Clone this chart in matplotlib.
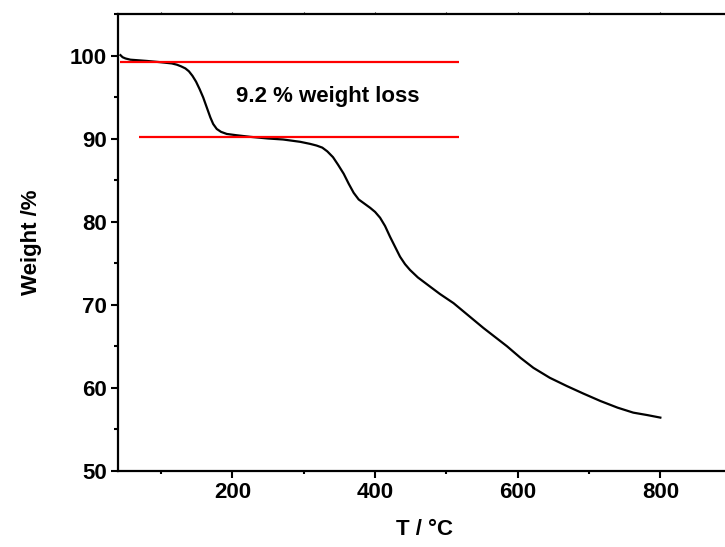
import matplotlib
matplotlib.use("Agg")
import matplotlib.pyplot as plt
from matplotlib.ticker import MultipleLocator

# TGA curve
temp = [43, 46, 50, 57, 80, 99, 115, 122, 128, 134, 139, 144, 149, 154, 159,
        164, 169, 173, 178, 184, 192, 205, 225, 250, 271, 295, 309, 318, 326,
        333, 341, 348, 356, 363, 370, 377, 385, 393, 400, 407, 414, 421, 428,
        435, 442, 449, 460, 477, 491, 510, 538, 552, 585, 604, 622, 645, 669,
        692, 716, 740, 762, 782, 800]
weight = [100.1, 99.85, 99.7, 99.55, 99.4, 99.25, 99.1, 98.95, 98.75, 98.5,
          98.15, 97.6, 96.9, 96.0, 95.0, 93.8, 92.6, 91.8, 91.2, 90.85, 90.6,
          90.45, 90.25, 90.05, 89.93, 89.65, 89.4, 89.2, 88.95, 88.5, 87.8,
          86.9, 85.8, 84.6, 83.5, 82.7, 82.2, 81.7, 81.2, 80.5, 79.5, 78.2,
          77.0, 75.8, 74.9, 74.2, 73.3, 72.2, 71.3, 70.2, 68.2, 67.2, 65.0,
          63.6, 62.4, 61.2, 60.2, 59.3, 58.4, 57.6, 57.0, 56.7, 56.4]

# red guide lines: level, start, end
upper_line = [99.3, 43, 518]
lower_line = [90.2, 69, 518]
loss_text = "9.2 % weight loss"

plt.rcParams['font.family'] = ['Liberation Sans', 'DejaVu Sans']
plt.rcParams['font.weight'] = 'bold'

fig = plt.figure(figsize=(7.25, 5.47), dpi=100)
ax = fig.add_axes([0.1632, 0.1395, 0.846, 0.834])

ax.plot(temp, weight, color="black", lw=1.6, solid_joinstyle="round")
ax.hlines(upper_line[0], upper_line[1], upper_line[2], color="red", lw=1.6)
ax.hlines(lower_line[0], lower_line[1], lower_line[2], color="red", lw=1.6)
ax.text(205, 95.1, loss_text, fontsize=16, fontweight="bold", va="center", ha="left")

ax.set_xlim(40, 900)
ax.set_ylim(50, 105)
ax.xaxis.set_major_locator(MultipleLocator(200))
ax.xaxis.set_minor_locator(MultipleLocator(100))
ax.yaxis.set_major_locator(MultipleLocator(10))
ax.yaxis.set_minor_locator(MultipleLocator(5))
ax.set_xticks([200, 400, 600, 800])

for s in ax.spines.values():
    s.set_linewidth(1.6)

ax.tick_params(axis="both", which="major", direction="out", length=5, width=1.5,
               labelsize=16, pad=3)
ax.tick_params(axis="x", which="minor", direction="out", length=2.5, width=1.5)
ax.tick_params(axis="y", which="minor", direction="out", length=3, width=1.5)
ax.tick_params(axis="x", which="both", top=True, labeltop=False)
# top ticks are only faint little marks
for t in ax.xaxis.get_major_ticks() + ax.xaxis.get_minor_ticks():
    t.tick2line.set_markersize(1.5)
    t.tick2line.set_markeredgewidth(0.8)
    t.tick2line.set_color("gray")

for lab in ax.get_xticklabels() + ax.get_yticklabels():
    lab.set_fontweight("bold")

ax.set_xlabel("T / °C", fontsize=16, fontweight="bold", labelpad=12)
ax.set_ylabel("Weight /%", fontsize=16, fontweight="bold", labelpad=20)

plt.savefig("out.png", dpi=100)
